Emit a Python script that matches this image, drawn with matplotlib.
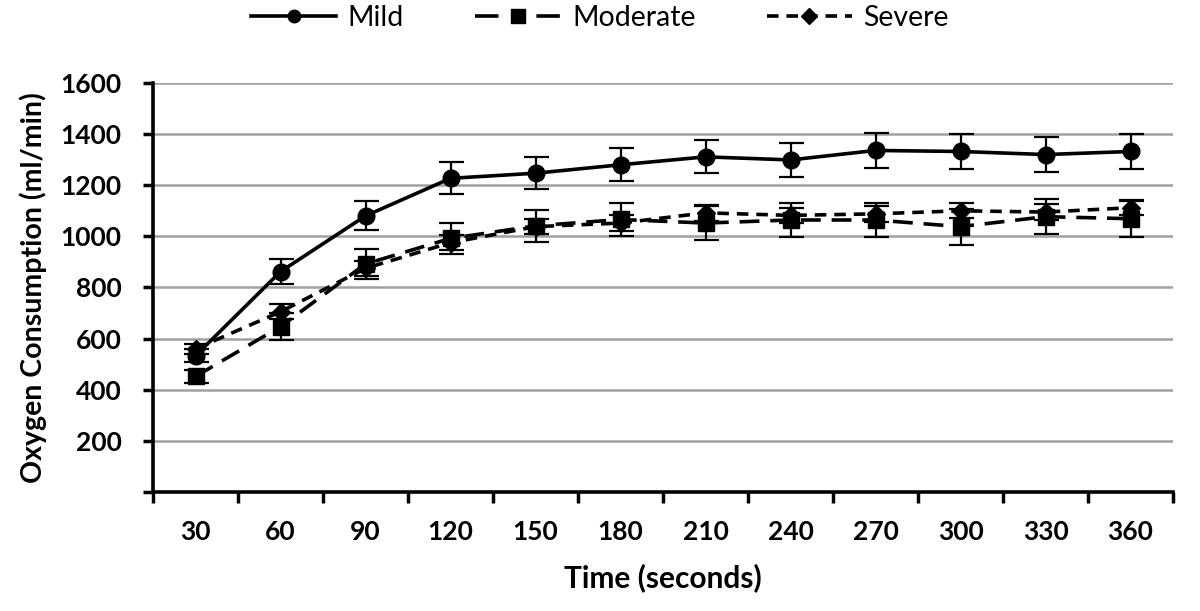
import matplotlib
matplotlib.use("Agg")
import matplotlib.pyplot as plt
from matplotlib.lines import Line2D
import numpy as np

time_labels = ["30", "60", "90", "120", "150", "180", "210", "240", "270", "300", "330", "360"]

mild = [533, 862, 1080, 1227, 1247, 1280, 1311, 1299, 1336, 1332, 1320, 1332]
mild_err = [25, 49, 57, 63, 63, 65, 65, 66, 67, 69, 70, 69]

moderate = [452, 647, 892, 992, 1041, 1066, 1052, 1064, 1064, 1038, 1077, 1069]
moderate_err = [25, 52, 57, 61, 63, 65, 65, 66, 67, 70, 68, 70]

severe = [560, 705, 875, 975, 1038, 1052, 1092, 1082, 1088, 1100, 1095, 1112]
severe_err = [20, 30, 30, 30, 30, 30, 30, 30, 30, 30, 30, 30]

series_names = ["Mild", "Moderate", "Severe"]

plt.rcParams['font.family'] = ['Lato', 'DejaVu Sans']

fig = plt.figure(figsize=(12, 6.11), dpi=100)
ax = fig.add_axes([0.1275, 0.1948, 0.85, 0.6694])

x = np.arange(len(time_labels))
lw = 2.6
common = dict(color='black', linewidth=lw, elinewidth=1.6, capsize=9, capthick=1.6, ecolor='black')

styles = [
    dict(marker='o', markersize=12, linestyle='-'),
    dict(marker='s', markersize=12, linestyle=(0, (5.5, 3))),
    dict(marker='D', markersize=9, linestyle=(0, (3.2, 2.2))),
]

ax.errorbar(x, severe, yerr=severe_err, zorder=3, **styles[2], **common)
ax.errorbar(x, moderate, yerr=moderate_err, zorder=4, **styles[1], **common)
ax.errorbar(x, mild, yerr=mild_err, zorder=5, **styles[0], **common)

ax.set_xlim(-0.5, len(time_labels) - 0.5)
ax.set_ylim(0, 1600)
ax.set_yticks(np.arange(0, 1601, 200))
ax.set_yticklabels([''] + [str(v) for v in range(200, 1601, 200)])
ax.set_xticks(x)
ax.set_xticklabels(time_labels)
ax.set_xticks(np.arange(-0.5, len(time_labels), 1.0), minor=True)
ax.tick_params(axis='x', which='major', length=0, pad=20, labelsize=19)
ax.tick_params(axis='x', which='minor', length=8, width=2.5, direction='out')
ax.tick_params(axis='y', which='major', length=7.5, width=2.5, direction='out', labelsize=19, pad=15)
for lab in ax.get_xticklabels() + ax.get_yticklabels():
    lab.set_fontweight('bold')

ax.grid(axis='y', color='#a0a0a0', linewidth=1.8, zorder=0)
ax.set_axisbelow(True)
for s in ['top', 'right']:
    ax.spines[s].set_visible(False)
for s in ['left', 'bottom']:
    ax.spines[s].set_linewidth(2.6)

ax.set_xlabel('Time (seconds)', fontsize=21.5, fontweight='bold', labelpad=14)
ax.set_ylabel('Oxygen Consumption (ml/min)', fontsize=20.5, fontweight='bold', labelpad=10)

leg_styles = [
    dict(marker='o', markersize=9, linestyle='-'),
    dict(marker='s', markersize=10, linestyle=(0, (6.5, 10.5))),
    dict(marker='D', markersize=8, linestyle=(0, (3.2, 2.2))),
]
handles = [Line2D([], [], color='black', linewidth=lw, **st) for st in leg_styles]
fig.legend(handles, series_names, loc='center', bbox_to_anchor=(0.5, 1 - 18 / 611), ncol=3,
           frameon=False, fontsize=20.5, handlelength=3.0, columnspacing=2.5, handletextpad=0.4)

fig.savefig('out.png', dpi=100)
